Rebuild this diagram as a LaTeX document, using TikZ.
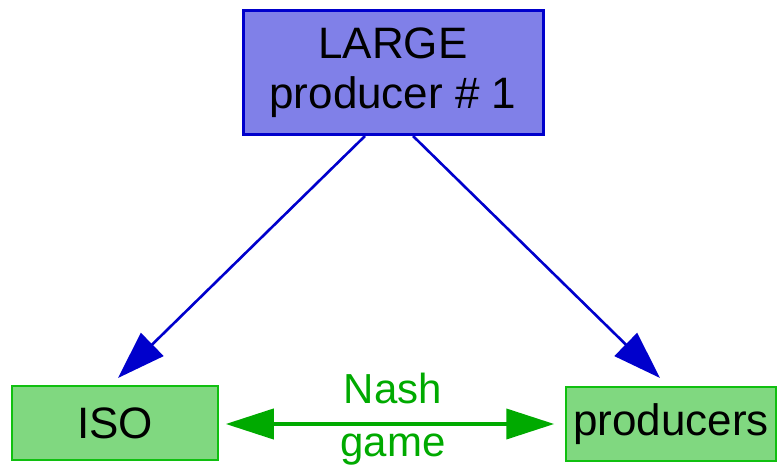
\documentclass[tikz,border=0pt]{standalone}
\usepackage{fontspec}
\setmainfont{Liberation Sans}
\usetikzlibrary{arrows.meta}
\definecolor{topfill}{HTML}{8080E8}
\definecolor{topdraw}{HTML}{0000CC}
\definecolor{boxfill}{HTML}{80D880}
\definecolor{boxdraw}{HTML}{10C010}
\definecolor{nashgreen}{HTML}{00AA00}
\definecolor{arrowblue}{HTML}{0000CC}
\begin{document}
\begin{tikzpicture}[x=1pt,y=-1pt,
  bigbox/.style={draw=topdraw,fill=topfill,line width=3pt,minimum width=300pt,minimum height=124pt,inner sep=0pt,align=center,font=\fontsize{44}{54}\selectfont},
  smallbox/.style={draw=boxdraw,fill=boxfill,line width=1.5pt,minimum height=74pt,inner sep=0pt,font=\fontsize{44}{50}\selectfont},
  bluearrow/.style={draw=arrowblue,line width=2.6pt,-{Triangle[length=48pt,width=32pt]}},
  greenarrow/.style={draw=nashgreen,line width=4pt,{Triangle[length=48pt,width=30pt]}-{Triangle[length=48pt,width=30pt]}},
  lbl/.style={text=nashgreen,font=\fontsize{42}{48}\selectfont}]
\useasboundingbox (0,0) rectangle (777,473);
\node[bigbox] (top) at (393,73) {LARGE\\[-4pt]producer \# 1};
\node[smallbox,minimum width=206pt] (iso) at (115,423) {ISO};
\node[smallbox,minimum width=210pt] (prod) at (671,424) {producers};
\coordinate (s1) at (365,136);
\coordinate (s2) at (413,136);
\coordinate (t1) at (118,378);
\coordinate (t2) at (660,378);
\draw[bluearrow] (s1) -- (t1);
\draw[bluearrow] (s2) -- (t2);
\draw[greenarrow,shorten <=7pt,shorten >=11pt] (iso.east |- 0,424) -- (prod.west |- 0,424);
\node[lbl] (nash) at (393,388) {Nash};
\node[lbl] (game) at (393,450) {game};
\end{tikzpicture}
\end{document}
